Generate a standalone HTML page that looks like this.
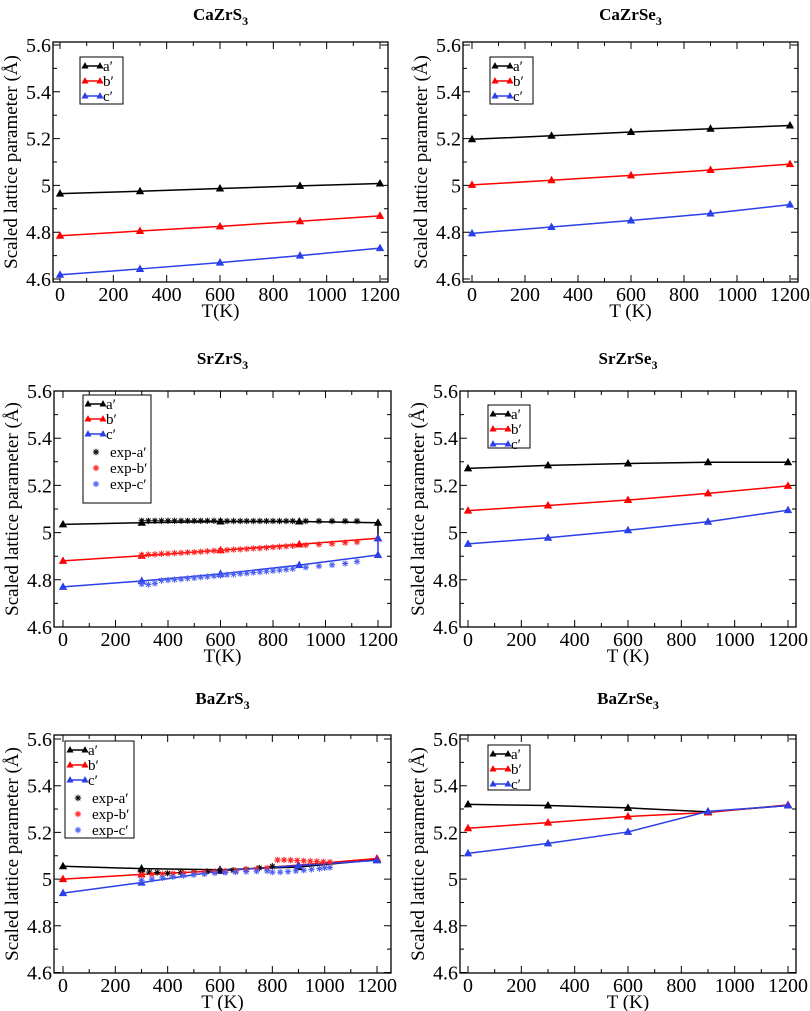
<!DOCTYPE html>
<html><head><meta charset="utf-8"><style>
html,body{margin:0;padding:0;background:#fff}
svg{display:block}
svg text{font-family:"Liberation Serif","DejaVu Serif",serif}
</style></head><body>
<svg id="fig" width="810" height="1011" viewBox="0 0 810 1011" xmlns="http://www.w3.org/2000/svg" font-family="Liberation Serif, DejaVu Serif, serif"></svg>
<script>
const T = [0, 300, 600, 900, 1200];
const xTicks = [0, 200, 400, 600, 800, 1000, 1200];
const yTicks = [4.6, 4.8, 5.0, 5.2, 5.4, 5.6];
const yTickLabels = ["4.6", "4.8", "5", "5.2", "5.4", "5.6"];
const xTickLabels = ["0", "200", "400", "600", "800", "1000", "1200"];

const caS_a = [4.965, 4.975, 4.987, 4.998, 5.008];
const caS_b = [4.785, 4.805, 4.825, 4.847, 4.870];
const caS_c = [4.618, 4.643, 4.670, 4.700, 4.732];
const caSe_a = [5.197, 5.212, 5.228, 5.242, 5.256];
const caSe_b = [5.002, 5.022, 5.043, 5.066, 5.091];
const caSe_c = [4.795, 4.822, 4.850, 4.880, 4.918];
const srS_a = [5.035, 5.042, 5.047, 5.047, 5.042];
const srS_b = [4.880, 4.902, 4.925, 4.950, 4.976];
const srS_c = [4.770, 4.795, 4.825, 4.862, 4.905];
const srSe_a = [5.272, 5.285, 5.293, 5.298, 5.298];
const srSe_b = [5.093, 5.115, 5.138, 5.166, 5.198];
const srSe_c = [4.952, 4.978, 5.010, 5.046, 5.095];
const baS_a = [5.055, 5.045, 5.040, 5.052, 5.083];
const baS_b = [5.000, 5.020, 5.035, 5.060, 5.088];
const baS_c = [4.940, 4.985, 5.035, 5.058, 5.080];
const baSe_a = [5.320, 5.315, 5.305, 5.288, 5.315];
const baSe_b = [5.218, 5.242, 5.268, 5.285, 5.318];
const baSe_c = [5.110, 5.153, 5.202, 5.290, 5.315];

const srExpT = [300, 325, 350, 375, 400, 425, 450, 475, 500, 525, 550, 575, 600, 625, 650, 675, 700, 725, 750, 775, 800, 825, 850, 875, 925, 975, 1025, 1075, 1120];
const srExpA = [5.050, 5.050, 5.050, 5.050, 5.050, 5.050, 5.050, 5.050, 5.050, 5.050, 5.050, 5.050, 5.049, 5.049, 5.049, 5.049, 5.049, 5.049, 5.049, 5.049, 5.049, 5.049, 5.049, 5.049, 5.049, 5.049, 5.049, 5.049, 5.049];
const srExpB = [4.905, 4.907, 4.908, 4.910, 4.911, 4.913, 4.914, 4.916, 4.917, 4.919, 4.921, 4.923, 4.924, 4.926, 4.928, 4.929, 4.931, 4.933, 4.934, 4.936, 4.938, 4.940, 4.942, 4.944, 4.947, 4.950, 4.953, 4.957, 4.960];
const srExpC = [4.782, 4.780, 4.785, 4.797, 4.799, 4.801, 4.803, 4.806, 4.808, 4.811, 4.813, 4.816, 4.818, 4.821, 4.823, 4.826, 4.828, 4.831, 4.833, 4.836, 4.838, 4.841, 4.844, 4.847, 4.853, 4.858, 4.863, 4.869, 4.877];

const baExpAT = [300, 330, 360, 400, 450, 500, 550, 600, 650, 700, 750, 800];
const baExpA = [5.030, 5.030, 5.028, 5.025, 5.028, 5.030, 5.032, 5.035, 5.038, 5.042, 5.048, 5.055];
const baExpBT = [300, 340, 380, 420, 460, 500, 540, 580, 620, 660, 700, 740, 780, 820, 845, 870, 895, 920, 945, 970, 995, 1020];
const baExpB = [5.020, 5.020, 5.022, 5.024, 5.026, 5.028, 5.030, 5.032, 5.034, 5.036, 5.040, 5.043, 5.048, 5.082, 5.082, 5.081, 5.080, 5.078, 5.077, 5.076, 5.074, 5.073];
const baExpCT = [300, 340, 380, 420, 460, 500, 540, 580, 620, 660, 700, 740, 780, 800, 830, 860, 890, 920, 950, 980, 1000, 1020];
const baExpC = [4.995, 5.000, 5.005, 5.010, 5.015, 5.018, 5.022, 5.026, 5.028, 5.030, 5.032, 5.034, 5.035, 5.030, 5.030, 5.032, 5.035, 5.038, 5.042, 5.045, 5.048, 5.050];

const NS = "http://www.w3.org/2000/svg";
const svg = document.getElementById("fig");
const FF = "Liberation Serif, DejaVu Serif, serif";
function mk(tag, attrs, parent) {
  const e = document.createElementNS(NS, tag);
  for (const k in attrs) e.setAttribute(k, attrs[k]);
  if (tag === "text") e.setAttribute("font-family", FF);
  (parent || svg).appendChild(e);
  return e;
}
const colors = {a: "#000000", b: "#ff0000", c: "#2a3fe8"};

function tri(g, x, y, col, s) {
  s = s || 1;
  const p = mk("polygon", {points: `${x},${y-4.5*s} ${x-4.2*s},${y+3*s} ${x+4.2*s},${y+3*s}`, fill: col}, g);
  
  
}
function star(g, x, y, col) {
  const s = 3.2, d = 2.3;
  const p = mk("path", {d: `M${x-s},${y}H${x+s}M${x},${y-s}V${y+s}M${x-d},${y-d}L${x+d},${y+d}M${x-d},${y+d}L${x+d},${y-d}`, stroke: col, "stroke-width": 1}, g);
  
  
}

function panel(cfg) {
  const g = mk("g", {});
  
  
  const sx = v => cfg.x0 + (cfg.x1200 - cfg.x0) * v / 1200;
  const sy = v => cfg.y46 - (cfg.y46 - cfg.y56) * (v - 4.6);
  const [L, Tp, R, B] = cfg.frame;
  const t = mk("text", {x: (L + R) / 2, y: cfg.titleY, "text-anchor": "middle", "font-size": 17, "font-weight": "bold"}, g);
  
  
  t.appendChild(document.createTextNode(cfg.title));
  const sub = mk("tspan", {"font-size": 12, dy: 5}, t);
  sub.textContent = "3";
  const fr = mk("rect", {x: L, y: Tp, width: R - L, height: B - Tp, fill: "none", stroke: "#000", "stroke-width": 1.3}, g);
  
  
  let d = "";
  for (let v = 0; v <= 1200; v += 100) {
    const x = sx(v), len = v % 200 === 0 ? 7 : 4;
    d += `M${x},${B}V${B-len}M${x},${Tp}V${Tp+len}`;
  }
  for (let i = 0; i <= 10; i++) {
    const v = 4.6 + i * 0.1, y = sy(v), len = i % 2 === 0 ? 7 : 4;
    d += `M${L},${y}H${L+len}M${R},${y}H${R-len}`;
  }
  const tk = mk("path", {d, stroke: "#000", "stroke-width": 1}, g);
  
  
  xTicks.forEach((v, i) => {
    const e = mk("text", {x: sx(v), y: B + 19, "text-anchor": "middle", "font-size": 20}, g);
    
    
    e.textContent = xTickLabels[i];
  });
  yTicks.forEach((v, i) => {
    const e = mk("text", {x: L - 2, y: sy(v) + 7, "text-anchor": "end", "font-size": 20}, g);
    
    
    e.textContent = yTickLabels[i];
  });
  const xt = mk("text", {x: (L + R) / 2, y: B + 35, "text-anchor": "middle", "font-size": 19}, g);
  
  
  xt.textContent = cfg.xlabel;
  const cy = (Tp + B) / 2;
  const yt = mk("text", {x: 0, y: 0, "text-anchor": "middle", "font-size": 19, transform: `translate(${L-36},${cy}) rotate(-90)`}, g);
  
  
  yt.textContent = "Scaled lattice parameter (Å)";
  cfg.series.forEach(s => {
    const pts = s.x.map((v, i) => `${sx(v)},${sy(s.y[i])}`).join(" ");
    const pl = mk("polyline", {points: pts, fill: "none", stroke: colors[s.k], "stroke-width": 1.5}, g);
    
    
    s.x.forEach((v, i) => { if (!s.noMark || !s.noMark.includes(i)) tri(g, sx(v), sy(s.y[i]), colors[s.k]); });
  });
  (cfg.exp || []).forEach(s => {
    s.x.forEach((v, i) => star(g, sx(v), sy(s.y[i]), s.col));
  });
  const [lx, ly, lw, lh] = cfg.legend;
  const lg = mk("g", {}, g);
  
  
  mk("rect", {x: lx, y: ly, width: lw, height: lh, fill: "#fff", stroke: "#000", "stroke-width": 1}, lg);
  const names = ["a′", "b′", "c′"], keys = ["a", "b", "c"];
  const step = cfg.exp ? 15 : 15;
  keys.forEach((k, i) => {
    const yy = ly + 9 + i * step;
    mk("line", {x1: lx + 5, y1: yy, x2: lx + 20, y2: yy, stroke: colors[k], "stroke-width": 1.5}, lg);
    tri(lg, lx + 5, yy, colors[k], 0.85); tri(lg, lx + 20, yy, colors[k], 0.85);
    const e = mk("text", {x: lx + 23, y: yy + 5, "font-size": 15}, lg);
    
    
    e.textContent = names[i];
  });
  if (cfg.exp) {
    const en = ["exp-a′", "exp-b′", "exp-c′"], ec = ["#000", "#ff2020", "#4a5ff0"];
    en.forEach((n, i) => {
      const yy = ly + 9 + (i + 3) * 16;
      star(lg, lx + 13, yy, ec[i]);
      const e = mk("text", {x: lx + 27, y: yy + 5, "font-size": 15}, lg);
      
      
      e.textContent = n;
    });
  }
}

panel({name: "panel-CaZrS3", title: "CaZrS", titleY: 20, xlabel: "T(K)", frame: [53, 42, 388, 282], x0: 60, x1200: 380, y46: 279, y56: 45,
  legend: [80, 57, 43, 47],
  series: [{k: "a", x: T, y: caS_a}, {k: "b", x: T, y: caS_b}, {k: "c", x: T, y: caS_c}]});
panel({name: "panel-CaZrSe3", title: "CaZrSe", titleY: 20, xlabel: "T (K)", frame: [463, 42, 798, 282], x0: 472, x1200: 790, y46: 279, y56: 45,
  legend: [490, 57, 43, 47],
  series: [{k: "a", x: T, y: caSe_a}, {k: "b", x: T, y: caSe_b}, {k: "c", x: T, y: caSe_c}]});
panel({name: "panel-SrZrS3", title: "SrZrS", titleY: 364, xlabel: "T(K)", frame: [54, 391, 391, 627], x0: 63, x1200: 378, y46: 627, y56: 391,
  legend: [83, 395, 68, 108],
  series: [{k: "a", x: T.concat([1200]), y: srS_a.concat([srS_b[4]]), noMark: [5]}, {k: "b", x: T, y: srS_b}, {k: "c", x: T.concat([1200]), y: srS_c.concat([srS_b[4]])}],
  exp: [{x: srExpT, y: srExpA, col: "#000"}, {x: srExpT, y: srExpB, col: "#ff2020"}, {x: srExpT, y: srExpC, col: "#4a5ff0"}]});
panel({name: "panel-SrZrSe3", title: "SrZrSe", titleY: 364, xlabel: "T (K)", frame: [460, 391, 796, 627], x0: 468, x1200: 788, y46: 627, y56: 391,
  legend: [488, 405, 42, 43],
  series: [{k: "a", x: T, y: srSe_a}, {k: "b", x: T, y: srSe_b}, {k: "c", x: T, y: srSe_c}]});
panel({name: "panel-BaZrS3", title: "BaZrS", titleY: 704, xlabel: "T (K)", frame: [54, 735, 391, 973], x0: 63, x1200: 377, y46: 972.5, y56: 739,
  legend: [65, 741, 69, 97],
  series: [{k: "a", x: T, y: baS_a}, {k: "b", x: T, y: baS_b}, {k: "c", x: T, y: baS_c}],
  exp: [{x: baExpAT, y: baExpA, col: "#000"}, {x: baExpBT, y: baExpB, col: "#ff2020"}, {x: baExpCT, y: baExpC, col: "#4a5ff0"}]});
panel({name: "panel-BaZrSe3", title: "BaZrSe", titleY: 704, xlabel: "T (K)", frame: [460, 735, 796, 973], x0: 468, x1200: 788, y46: 972.5, y56: 739,
  legend: [488, 745, 42, 45],
  series: [{k: "a", x: T, y: baSe_a}, {k: "b", x: T, y: baSe_b}, {k: "c", x: T, y: baSe_c}]});
</script>
</body></html>
